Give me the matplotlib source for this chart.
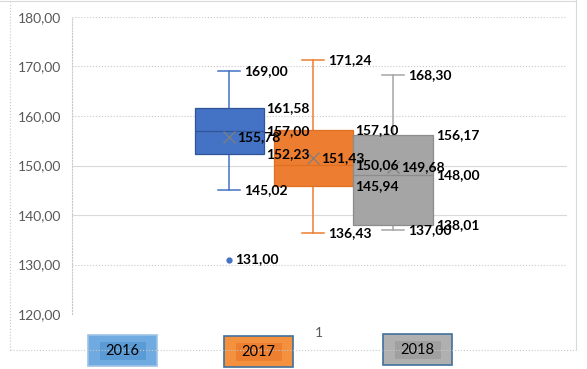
import matplotlib.pyplot as plt
from matplotlib.patches import Rectangle
from matplotlib.lines import Line2D

plt.rcParams['font.family'] = ['Lato', 'DejaVu Sans']

years = ["2016", "2017", "2018"]
q1 = [152.23, 145.94, 138.01]
median = [157.00, 150.06, 148.00]
q3 = [161.58, 157.10, 156.17]
whis_lo = [145.02, 136.43, 137.00]
whis_hi = [169.00, 171.24, 168.30]
mean = [155.78, 151.43, 149.68]
outliers = [[131.00], [], []]
yticks = [120, 130, 140, 150, 160, 170, 180]
category = "1"

W, H = 587, 369


def fmt(v):
    return f"{v:.2f}".replace(".", ",")


def fig_xy(x, y):
    return x / W, 1 - y / H


fig = plt.figure(figsize=(W / 100, H / 100), dpi=100)
ax = fig.add_axes([72 / W, 1 - 314 / H, (567 - 72) / W, (314 - 17) / H])
ax.set_xlim(72, 567)
ax.set_ylim(120, 180)

# chart area border
fig.add_artist(Line2D([10 / W, 10 / W], [1 - 350 / H, 1 - 2 / H], color="#C8C8C8", lw=0.8, ls=":"))
fig.add_artist(Line2D([10 / W, 576 / W], [1 - 350 / H, 1 - 350 / H], color="#C8C8C8", lw=0.8, ls=":"))
fig.add_artist(Line2D([576 / W, 576 / W], [1 - 350 / H, 1.0], color="#D9D9D9", lw=0.8))
fig.add_artist(Line2D([0, 576 / W], [1 - 1 / H, 1 - 1 / H], color="#D9D9D9", lw=0.8))

for t in yticks:
    solid = t in (140, 150)
    ax.axhline(t, color="#D9D9D9" if solid else "#C8C8C8", lw=0.8,
               ls="-" if solid else ":", zorder=0)

positions = [229, 313, 393]
widths = [69, 79, 80]
fills = ["#4472C4", "#ED7D31", "#A5A5A5"]
edges = ["#2F5597", "#E07020", "#8C8C8C"]
lines = ["#4472C4", "#ED7D31", "#A5A5A5"]

stats = []
for i, y in enumerate(years):
    stats.append(dict(label=y, q1=q1[i], med=median[i], q3=q3[i],
                      whislo=whis_lo[i], whishi=whis_hi[i],
                      mean=mean[i], fliers=outliers[i]))

bp = ax.bxp(stats, positions=positions, widths=widths, capwidths=[22] * 3,
            patch_artist=True, showmeans=True, manage_ticks=False)

for i in range(3):
    bp["boxes"][i].set(facecolor=fills[i], edgecolor=edges[i], linewidth=0.9, zorder=3)
    bp["medians"][i].set(color=edges[i], linewidth=0.9, zorder=4)
    for ln in bp["whiskers"][2 * i:2 * i + 2] + bp["caps"][2 * i:2 * i + 2]:
        ln.set(color=lines[i], linewidth=1.1, zorder=2)
    bp["means"][i].set(marker="x", markeredgecolor="#7F7F7F", markerfacecolor="none",
                       markersize=8, markeredgewidth=0.9, zorder=5)
    bp["fliers"][i].set(marker="o", markerfacecolor=fills[i], markeredgecolor=fills[i],
                        markersize=3.5)

# data labels
lab = dict(fontsize=10, fontweight="bold", color="black", va="center", ha="left", zorder=6)
for i in range(3):
    box_r = positions[i] + widths[i] / 2 + 3
    cap_r = positions[i] + 11 + 4
    ax.text(cap_r, whis_hi[i], fmt(whis_hi[i]), **lab)
    ax.text(cap_r, whis_lo[i], fmt(whis_lo[i]), **lab)
    ax.text(box_r, q3[i], fmt(q3[i]), **lab)
    ax.text(box_r, median[i], fmt(median[i]), **lab)
    ax.text(box_r, q1[i], fmt(q1[i]), **lab)
    ax.text(positions[i] + 8, mean[i], fmt(mean[i]), **lab)
    for o in outliers[i]:
        ax.text(positions[i] + 6, o, fmt(o), **lab)

ax.set_yticks(yticks)
ax.set_yticklabels([fmt(t) for t in yticks])
ax.set_xticks([])
ax.tick_params(axis="y", length=0, pad=8, labelsize=10, labelcolor="#595959")
for s in ["top", "right", "bottom"]:
    ax.spines[s].set_visible(False)
ax.spines["left"].set(color="#C8C8C8", linestyle=":", linewidth=0.8)

fx, fy = fig_xy(319, 333)
fig.text(fx, fy, category, fontsize=10, color="#595959", ha="center", va="center")

# legend boxes
leg_x = [88, 224, 383]
leg_y = [335, 336, 334]
outer = ["#6FABE0", "#F4913F", "#B0B0B0"]
inner = ["#5B9BD5", "#EC7F30", "#A0A0A0"]
border = ["#9DC3E6", "#41719C", "#41719C"]
for i, y in enumerate(years):
    x0, y0 = fig_xy(leg_x[i], leg_y[i] + 31)
    fig.add_artist(Rectangle((x0, y0), 69 / W, 31 / H, transform=fig.transFigure,
                             facecolor=outer[i], edgecolor=border[i], lw=1.2))
    x1, y1 = fig_xy(leg_x[i] + 12, leg_y[i] + 25)
    fig.add_artist(Rectangle((x1, y1), 46 / W, 18 / H, transform=fig.transFigure,
                             facecolor=inner[i], edgecolor="none"))
    tx, ty = fig_xy(leg_x[i] + 34.5, leg_y[i] + 16)
    fig.text(tx, ty, y, fontsize=10.5, color="black", ha="center", va="center")

fig.savefig("out.png", dpi=100)
